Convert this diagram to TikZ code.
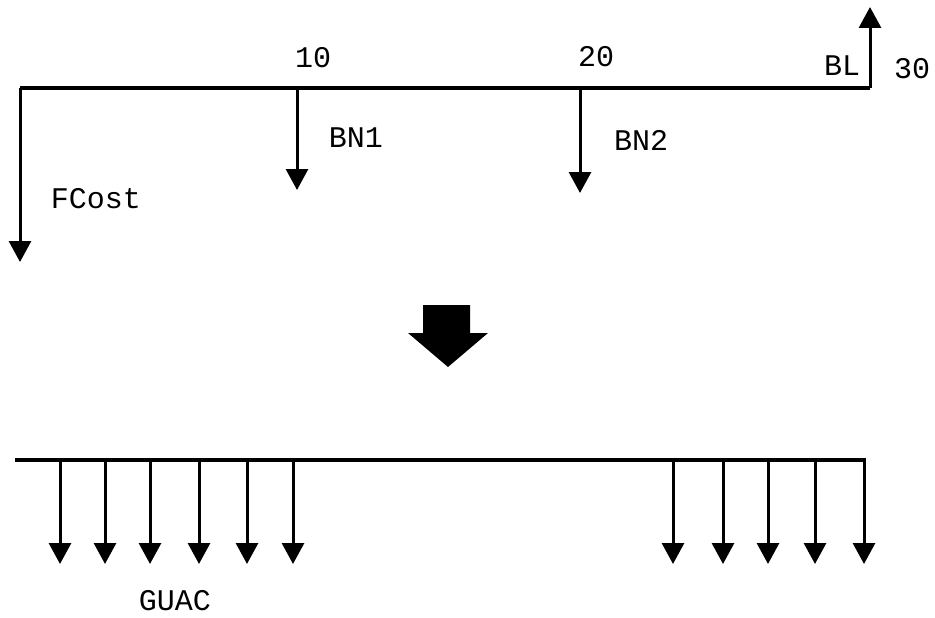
\documentclass[tikz,border=0pt]{standalone}
\usepackage{fontspec}
\setmonofont{Liberation Mono}
\usetikzlibrary{arrows.meta}
\tikzset{
  flow/.style={line width=3pt,-{Triangle[width=22pt,length=21pt]}},
  axis/.style={line width=4pt,line join=miter},
  lbl/.style={font=\ttfamily\fontsize{30}{30}\selectfont,inner sep=0pt},
}
\begin{document}
\begin{tikzpicture}[x=1pt,y=-1pt]
\useasboundingbox (0,0) rectangle (935,618);
% top timeline
\coordinate (tl) at (20,88);
\coordinate (tr) at (870,88);
\coordinate (fc) at (20,262);
\coordinate (up) at (870,7);
\coordinate (t10) at (297,88);
\coordinate (t20) at (580,88);
\coordinate (b1) at (297,190);
\coordinate (b2) at (580,193);
\draw[axis] (tl) -- (tr);
\draw[flow] (tl) -- (fc);
\draw[flow] (tr) -- (up);
\draw[flow] (t10) -- (b1);
\draw[flow] (t20) -- (b2);
\node[lbl] (l10) at (313,58) {10};
\node[lbl] (l20) at (596,57) {20};
\node[lbl] (lbl) at (842,66) {BL};
\node[lbl] (l30) at (912,69) {30};
\node[lbl] (lbn1) at (356,138) {BN1};
\node[lbl] (lbn2) at (641,140) {BN2};
\node[lbl] (lfc) at (96,199) {FCost};
% big arrow
\fill (423,305) -- (470,305) -- (470,333) -- (488,333) -- (448,367) -- (408,333) -- (423,333) -- cycle;
% bottom timeline
\coordinate (bl) at (15,460);
\coordinate (br) at (866,460);
\draw[axis] (bl) -- (br);
\foreach \x [count=\i] in {60,105,150,199,247,293,673,723,768,815,864}{
  \coordinate (s\i) at (\x,460);
  \coordinate (e\i) at (\x,564);
  \draw[flow] (s\i) -- (e\i);
}
\node[lbl] (lguac) at (175,601) {GUAC};
\end{tikzpicture}
\end{document}
